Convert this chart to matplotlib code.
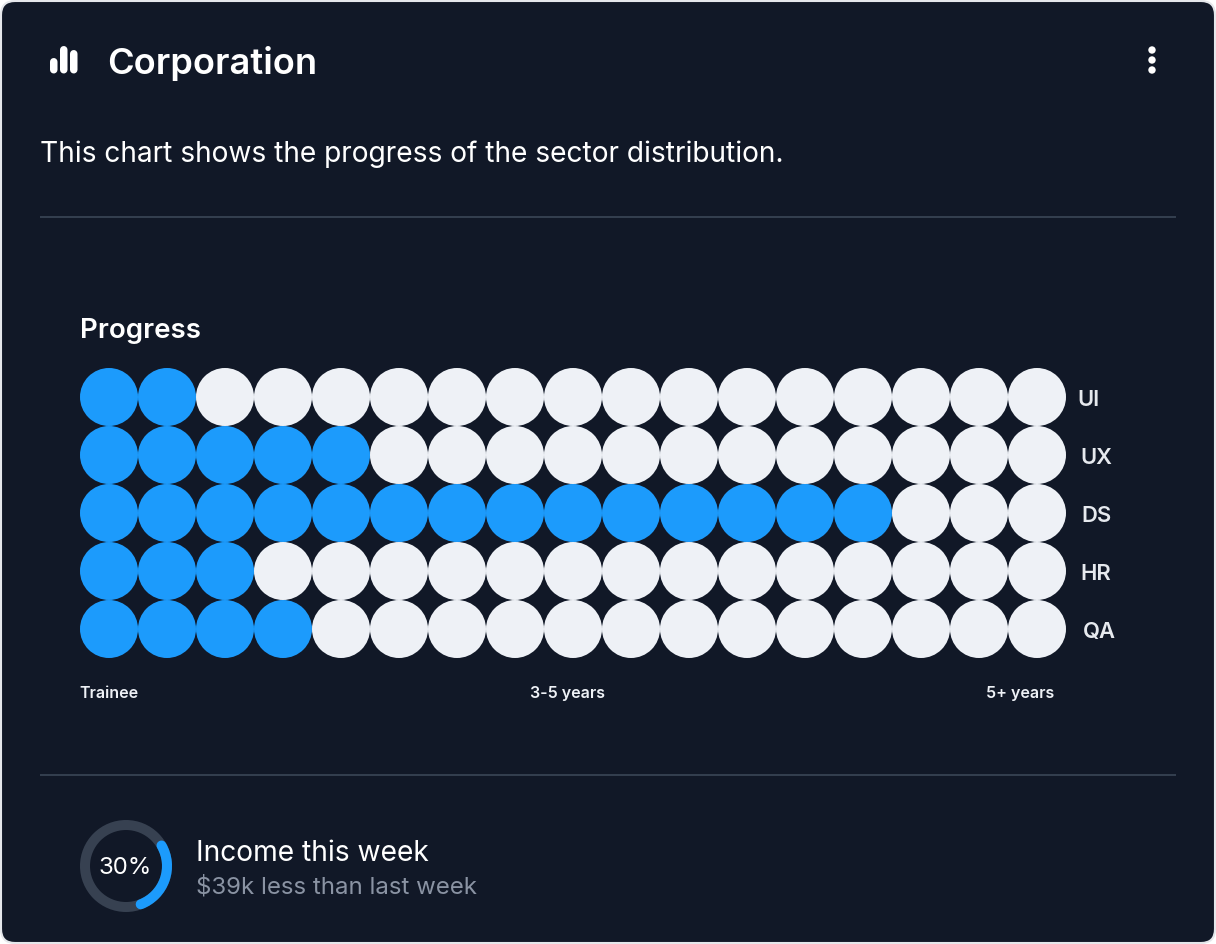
import matplotlib
matplotlib.use("Agg")
import matplotlib.pyplot as plt
from matplotlib.patches import Circle, FancyBboxPatch, Arc

plt.rcParams['font.family'] = ['Inter', 'DejaVu Sans']

# data
sectors = ["UI", "UX", "DS", "HR", "QA"]
filled = [2, 5, 14, 3, 4]
n_cols = 17
x_labels = ["Trainee", "3-5 years", "5+ years"]
income_pct = 30
bar_heights = [15.5, 27.5, 23.5]

# left edge of the row labels, they are not lined up in the picture
label_left = [1077, 1080, 1081, 1080.5, 1082.5]

BG = "#111827"
BLUE = "#1c9bfc"
LIGHT = "#eef1f6"
LINE = "#3e4a5a"
TRACK = "#374151"
W, H = 1216, 944


def px(size):
    # font size given in pixels
    return size * 72 / 100


fig = plt.figure(figsize=(W / 100, H / 100), dpi=100, facecolor="#ffffff")
ax = fig.add_axes([0, 0, 1, 1])
ax.set_xlim(0, W)
ax.set_ylim(H, 0)
ax.axis("off")

# card
ax.add_patch(FancyBboxPatch((1, 1), W - 2, H - 2, boxstyle="round,pad=0,rounding_size=14",
                            fc=BG, ec="#e5e7eb", lw=1.5))

# header icon
for i, h in enumerate(bar_heights):
    x = 53.75 + i * 10
    ax.plot([x, x], [73.5 - 3.75, 73.5 - h + 3.75], color="white", lw=5.4, solid_capstyle="round", snap=False)

ax.text(107.5, 60.2, "Corporation", color="white", fontsize=px(36.2), fontweight="semibold", va="center_baseline")
for y in [50, 60, 70]:
    ax.add_patch(Circle((1152, y), 3.7, fc="white", ec="none"))

ax.text(40.5, 151.5, "This chart shows the progress of the sector distribution.", color="white",
        fontsize=px(28.15), va="center_baseline")
ax.plot([40, 1176], [217, 217], color=LINE, lw=1.1, solid_capstyle="butt")
ax.plot([40, 1176], [775, 775], color=LINE, lw=1.1, solid_capstyle="butt")

ax.text(80, 328, "Progress", color="white", fontsize=px(27.7), fontweight="semibold", va="center_baseline")

# dot matrix
for j, s in enumerate(sectors):
    yy = 397 + j * 58
    for i in range(n_cols):
        c = BLUE if i < filled[j] else LIGHT
        ax.add_patch(Circle((109 + i * 58, yy), 29, fc=c, ec="none"))
    ax.text(label_left[j], yy + 1, s, color="#e6e9ee", fontsize=px(22), fontweight="semibold", va="center_baseline")

ax.text(79.5, 692, x_labels[0], color=LIGHT, fontsize=px(16), fontweight="semibold", va="center_baseline")
ax.text(567, 692, x_labels[1], color=LIGHT, fontsize=px(16), fontweight="semibold", ha="center", va="center_baseline")
ax.text(1054, 692, x_labels[2], color=LIGHT, fontsize=px(16), fontweight="semibold", ha="right", va="center_baseline")

# income ring
ax.add_patch(Circle((126, 866), 41, fc="none", ec=TRACK, lw=7.2))
start = 30
span = 99
# y axis is inverted, so arc angles run clockwise on screen
ax.add_patch(Arc((126, 866), 82, 82, theta1=-start, theta2=-start + span, ec=BLUE, lw=7.2, capstyle="round"))
ax.text(125, 866, f"{income_pct}%", color="white", fontsize=px(24), ha="center", va="center_baseline")
ax.text(196, 850.5, "Income this week", color="white", fontsize=px(28.2), va="center_baseline")
ax.text(196, 884.5, "$39k less than last week", color="#8a93a3", fontsize=px(24.05), va="center_baseline")

fig.savefig("out.png", dpi=100, facecolor=fig.get_facecolor())
